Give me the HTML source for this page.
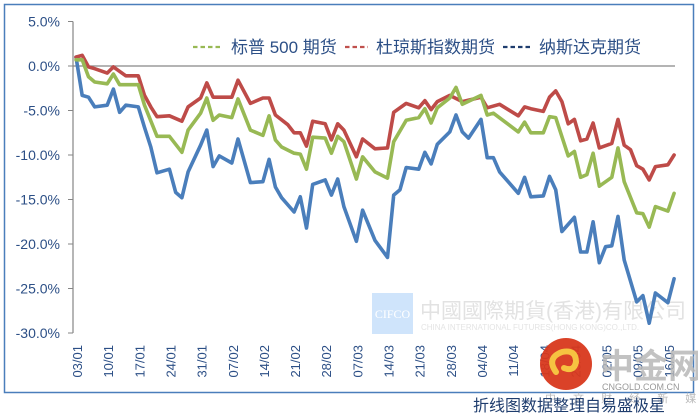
<!DOCTYPE html>
<html><head><meta charset="utf-8">
<style>
html,body{margin:0;padding:0;background:#fff;}
body{width:698px;height:418px;position:relative;overflow:hidden;font-family:"Liberation Sans","Noto Sans CJK SC",sans-serif;}
svg{position:absolute;left:0;top:0;}
</style></head>
<body>
<svg id="chart" width="698" height="418" viewBox="0 0 698 418">
  <rect x="4.5" y="4.5" width="689" height="388" fill="#fff" stroke="#4a7ebb" stroke-width="1.5"/>
  <g>
    <rect x="372" y="293" width="41" height="41" fill="#cfe4fb"/>
    <text x="392.5" y="318" font-family="Liberation Serif,serif" font-size="12" fill="#fff" text-anchor="middle">CIFCO</text>
    <text x="420" y="318" font-size="21" fill="#e2e2e2" font-family="Liberation Sans,'Noto Sans CJK TC',sans-serif">中國國際期貨(香港)有限公司</text>
    <text x="421" y="330" font-size="8" fill="#e4e4e4">CHINA INTERNATIONAL FUTURES(HONG KONG)CO.,LTD.</text>
  </g>
  <g id="axes"></g>
  <g id="series"></g>
  <g>
    <circle cx="566" cy="364" r="26" fill="#d8381c" opacity="0.95"/>
    <path d="M556 372 q-10 -14 6 -20 q14 -3 14 10 q-2 10 -12 6" fill="none" stroke="#f6c341" stroke-width="6" stroke-linecap="round"/>
    <text x="600" y="378" font-size="34" font-weight="bold" fill="#b8b8b8" opacity="0.85" font-family="Liberation Sans,'Noto Sans CJK SC',sans-serif">中金网</text>
    <text x="602" y="390" font-size="9" fill="#999">CNGOLD.COM.CN</text>
    <text x="545" y="402" font-size="11" fill="#bbb" letter-spacing="7">中 文 财 经 新 媒 体</text>
  </g>
  <text x="665" y="411" font-size="16" fill="#1f3d6e" text-anchor="end" font-family="Liberation Sans,'Noto Sans CJK SC',sans-serif">折线图数据整理自易盛极星</text>
  <g id="legend"></g>
</svg>
<script>
const NS="http://www.w3.org/2000/svg";
const yTicks=[5,0,-5,-10,-15,-20,-25,-30];
const xLabels=["03/01","10/01","17/01","24/01","31/01","07/02","14/02","21/02","28/02","07/03","14/03","21/03","28/03","04/04","11/04","18/04","25/04","02/05","09/05","16/05"];
const seriesNames=["标普 500 期货","杜琼斯指数期货","纳斯达克期货"];
const blueDays=[0,1,2,3,5,6,7,8,10,11,12,13,15,16,17,18,20,21,22,23,25,26,28,30,31,32,33,35,36,37,38,40,41,42,43,45,46,48,50,51,52,53,55,56,57,58,60,61,62,63,65,66,67,68,71,72,73,75,76,77,78,80,81,82,83,84,85,86,87,88,90,91,92,93,95,96];
const blueVals=[1.0,-3.3,-3.5,-4.6,-4.4,-2.6,-5.2,-4.4,-4.6,-6.9,-9.1,-12.0,-11.6,-14.2,-14.8,-11.9,-8.9,-7.2,-11.3,-10.1,-10.9,-8.2,-13.1,-13.0,-10.5,-13.6,-14.8,-16.4,-14.7,-18.2,-13.3,-12.8,-14.5,-12.7,-15.8,-19.7,-16.2,-19.6,-21.5,-14.5,-13.9,-11.4,-11.6,-9.7,-11.0,-8.8,-7.4,-5.5,-7.4,-8.1,-6.0,-10.3,-10.3,-11.9,-14.3,-12.5,-14.7,-14.6,-12.4,-13.9,-18.6,-17.0,-20.9,-20.9,-17.5,-22.1,-20.3,-20.2,-16.9,-21.8,-26.5,-25.8,-28.9,-25.5,-26.6,-23.9];
const redDays=[0,1,2,3,5,6,8,10,11,12,13,15,17,18,20,21,22,25,26,28,30,31,32,34,35,36,37,38,40,41,42,43,45,46,48,50,51,53,55,56,57,58,60,62,65,66,68,71,72,73,75,76,77,78,79,80,81,82,83,84,86,87,88,89,90,91,92,93,95,96];
const redVals=[1.0,1.2,-0.1,-0.3,-0.8,-0.1,-1.1,-1.1,-3.3,-4.6,-5.7,-5.6,-6.2,-4.6,-3.6,-1.9,-3.5,-3.5,-1.6,-4.2,-3.6,-3.6,-5.5,-6.6,-7.5,-7.5,-9.0,-6.2,-6.5,-8.3,-6.5,-7.2,-10.2,-8.2,-9.3,-9.2,-5.2,-4.2,-4.7,-3.9,-4.9,-4.0,-3.3,-4.0,-3.5,-4.7,-4.3,-5.6,-4.6,-4.8,-5.1,-3.5,-2.8,-4.0,-6.5,-6.0,-8.4,-8.2,-6.4,-9.2,-8.7,-6.0,-8.9,-9.4,-11.2,-11.6,-12.8,-11.3,-11.1,-10.0];
const greenDays=[0,1,2,3,5,6,7,10,11,13,15,17,18,20,21,22,23,25,26,28,30,31,32,33,35,36,37,38,40,41,42,43,45,46,48,50,51,53,55,56,57,58,60,61,62,65,66,67,71,72,73,75,76,77,79,80,81,82,83,84,86,87,88,90,91,92,93,95,96];
const greenVals=[0.7,0.7,-1.2,-1.8,-2.0,-0.9,-2.1,-2.1,-4.4,-7.9,-7.9,-9.7,-7.2,-5.3,-3.6,-6.1,-5.5,-5.8,-3.7,-7.2,-7.8,-5.6,-8.3,-9.1,-9.8,-9.9,-11.6,-8.0,-8.1,-9.8,-7.9,-8.5,-12.7,-10.2,-11.9,-12.6,-8.5,-6.1,-5.8,-4.8,-6.4,-4.7,-3.6,-2.4,-4.3,-3.3,-5.5,-5.3,-7.4,-6.3,-7.5,-7.5,-5.7,-5.8,-10.1,-9.6,-12.5,-12.2,-9.8,-13.5,-12.5,-9.2,-13.0,-16.5,-16.6,-18.1,-15.8,-16.3,-14.3];

const X0=76, DX=6.23, Y0=66, PY=8.9;
function xs(d){return X0+d*DX;}
function ys(v){return Y0-v*PY;}
function mk(tag,attrs,parent){const e=document.createElementNS(NS,tag);for(const k in attrs)e.setAttribute(k,attrs[k]);parent.appendChild(e);return e;}

const axes=document.getElementById('axes');
const yAxis=mk('line',{x1:73,y1:ys(5),x2:73,y2:ys(-30),stroke:'#868686','stroke-width':1.2},axes);


yTicks.forEach(t=>{
  const tk=mk('line',{x1:68,y1:ys(t),x2:73,y2:ys(t),stroke:'#868686','stroke-width':1},axes);
  
  
  const lb=mk('text',{x:60,y:ys(t)+5,'font-size':14,fill:'#2c4f86','text-anchor':'end'},axes);
  lb.textContent=t.toFixed(1)+'%';
  
  
});
const zero=mk('line',{x1:73,y1:ys(0),x2:675,y2:ys(0),stroke:'#868686','stroke-width':1.2},axes);


xLabels.forEach((l,i)=>{
  const x=xs(i*5)+1;
  const lb=mk('text',{x:0,y:0,'font-size':13,fill:'#2c4f86','text-anchor':'end',transform:`translate(${x+5},345) rotate(-90)`},axes);
  lb.textContent=l;
  
  
});

const ser=document.getElementById('series');
function drawLine(days,vals,color,name){
  const pts=days.map((d,i)=>xs(d).toFixed(1)+','+ys(vals[i]).toFixed(1)).join(' ');
  const p=mk('polyline',{points:pts,fill:'none',stroke:color,'stroke-width':3.6,'stroke-linejoin':'round','stroke-linecap':'round'},ser);
  
  
}
drawLine(blueDays,blueVals,'#4a7ebb','series-nasdaq');
drawLine(redDays,redVals,'#be4b48','series-dow-jones');
drawLine(greenDays,greenVals,'#98b954','series-sp500');

const lg=document.getElementById('legend');
const legendItems=[[193,221,231,'#98b954'],[345,368,376,'#c0504d'],[503,530,539,'#1f3d6e']];
legendItems.forEach((it,i)=>{
  const g=mk('g',{},lg);
  
  
  mk('line',{x1:it[0],y1:47,x2:it[1],y2:47,stroke:it[3],'stroke-width':2.2,'stroke-dasharray':'4.5,3'},g);
  const t=mk('text',{x:it[2],y:53,'font-size':17,fill:'#2c4f86'},g);
  t.textContent=seriesNames[i];
});
</script>
</body></html>
